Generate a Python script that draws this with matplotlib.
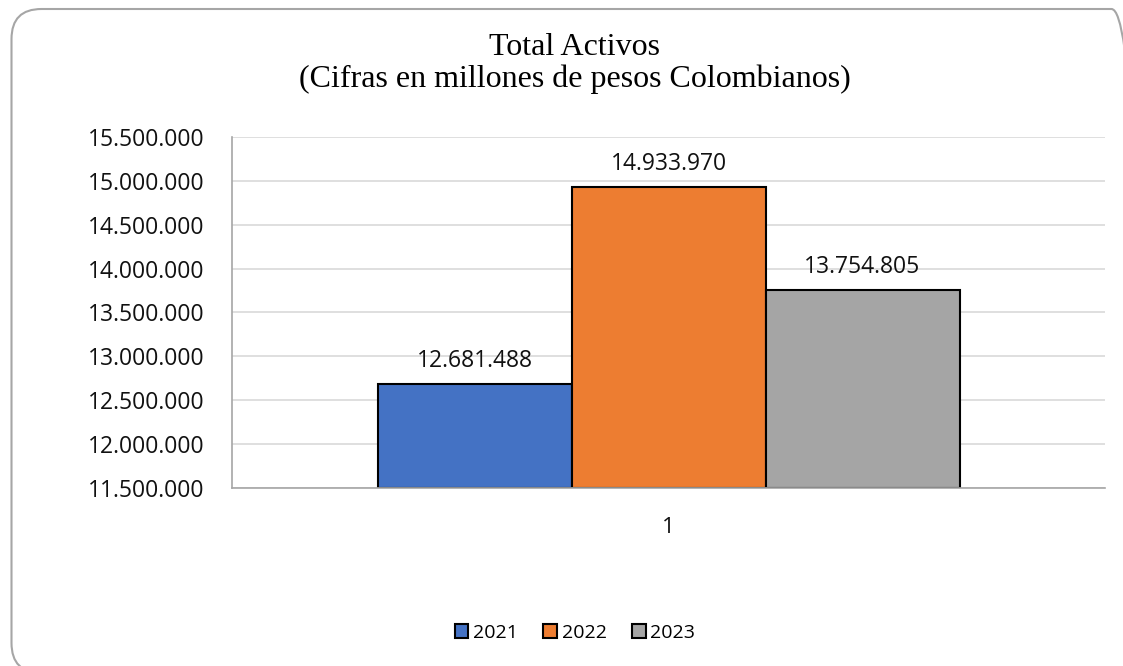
import matplotlib.pyplot as plt
import numpy as np
from matplotlib.patches import FancyBboxPatch
from matplotlib.ticker import FuncFormatter

years = ['2021', '2022', '2023']
values = [12681488, 14933970, 13754805]
colors = ['#4472C4', '#ED7D31', '#A5A5A5']
y_ticks = [11500000, 12000000, 12500000, 13000000, 13500000, 14000000, 14500000, 15000000, 15500000]
category = '1'


def miles(v, pos=None):
	return f'{int(round(v)):,}'.replace(',', '.')


plt.rcParams['font.family'] = ['Open Sans', 'DejaVu Sans']

fig = plt.figure(figsize=(11.23, 6.66), dpi=100)
ax = fig.add_axes([0.2066, 0.2673, 0.9840 - 0.2066, 0.7943 - 0.2673])

# rounded chart border, cut off by the picture on the right and bottom
border = FancyBboxPatch((0.115, -0.07), 11.30, 6.64, boxstyle='round,pad=0,rounding_size=0.30',
	transform=fig.dpi_scale_trans, facecolor='none', edgecolor='#a6a6a6', lw=1.5, clip_on=False)
fig.patches.append(border)

offsets = np.arange(len(years)) - 1
for i, (yr, v) in enumerate(zip(years, values)):
	ax.bar(offsets[i], v - y_ticks[0], bottom=y_ticks[0], width=1.0, color=colors[i],
		edgecolor='black', lw=1.5, label=yr, zorder=3)
	ax.annotate(miles(v), (offsets[i], v), xytext=(0, 8), textcoords='offset points',
		ha='center', va='bottom', fontsize=16.5, color='#111111', zorder=4)

ax.set_xlim(-2.25, 2.25)
ax.set_ylim(y_ticks[0], y_ticks[-1])
ax.set_yticks(y_ticks)
ax.yaxis.set_major_formatter(FuncFormatter(miles))
ax.set_xticks([0])
ax.set_xticklabels([category])
ax.tick_params(axis='y', length=0, pad=20, labelsize=16.5, colors='#111111')
ax.tick_params(axis='x', length=0, pad=21, labelsize=16, colors='#111111')
ax.grid(axis='y', color='#d9d9d9', lw=1.2, zorder=0)
for s in ['top', 'right']:
	ax.spines[s].set_visible(False)
for s in ['left', 'bottom']:
	ax.spines[s].set_color('#a6a6a6')
	ax.spines[s].set_linewidth(1.2)
	ax.spines[s].set_zorder(5)

fig.text(0.512, 0.905, 'Total Activos\n(Cifras en millones de pesos Colombianos)', ha='center', va='center',
	fontsize=23, family='Liberation Serif', linespacing=1.1, color='black')

fig.legend(loc='center', bbox_to_anchor=(0.512, 0.05), ncol=3, frameon=False, fontsize=14,
	handlelength=0.7, handleheight=0.7, handletextpad=0.25, columnspacing=1.3)

fig.savefig('out.png', dpi=100)
